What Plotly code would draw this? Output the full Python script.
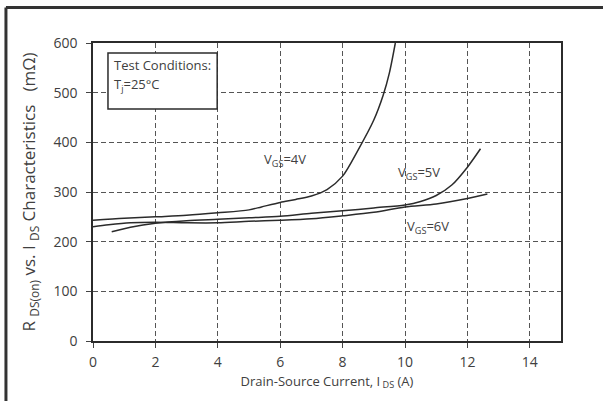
import plotly.graph_objects as go

# VGS = 4 V
ids_4v = [0, 1, 2, 3, 4, 5, 5.4, 6, 6.5, 7, 7.5, 8, 8.5, 9, 9.3, 9.5, 9.69]
rds_4v = [243, 247, 250, 253, 258, 264, 270, 279, 285, 292, 305, 332, 385, 445, 495, 540, 600]

# VGS = 5 V
ids_5v = [0.6, 1.2, 2, 3, 4, 5, 6, 7, 8, 9, 10, 10.5, 11, 11.5, 12, 12.42]
rds_5v = [220, 229, 237, 242, 245, 248, 251, 257, 262, 268, 274, 281, 293, 314, 350, 387]

# VGS = 6 V
ids_6v = [0, 0.5, 1.2, 2, 3, 4, 5, 6, 7, 8, 9, 10, 11, 12, 12.64]
rds_6v = [230, 234, 238, 239, 238, 238, 241, 243, 246, 252, 259, 270, 276, 287, 296]

x_ticks = [0, 2, 4, 6, 8, 10, 12, 14]
y_ticks = [0, 100, 200, 300, 400, 500, 600]

curve_labels = ["V<sub>GS</sub>=4V", "V<sub>GS</sub>=5V", "V<sub>GS</sub>=6V"]
label_x = [5.43, 9.7, 10.0]
label_y = [364, 338, 229]

FONT = "Open Sans"
TXT = "#404040"
LINE = "#2b2b2b"

fig = go.Figure()
for xs, ys in [(ids_4v, rds_4v), (ids_5v, rds_5v), (ids_6v, rds_6v)]:
    fig.add_trace(go.Scatter(x=xs, y=ys, mode="lines",
                             line=dict(color=LINE, width=1.5, shape="spline", smoothing=0.8),
                             showlegend=False, hoverinfo="skip"))

for t, lx, ly in zip(curve_labels, label_x, label_y):
    fig.add_annotation(x=lx, y=ly, text=t, showarrow=False, xanchor="left", yanchor="middle",
                       font=dict(family=FONT, size=13, color=TXT), bgcolor="rgba(255,255,255,0)")

# Test conditions box
fig.add_shape(type="rect", xref="x", yref="y", x0=0.48, x1=3.98, y0=467, y1=580,
              line=dict(color=LINE, width=1.5), fillcolor="white", layer="above")
fig.add_annotation(xref="x", yref="y", x=0.62, y=556, text="Test Conditions:", showarrow=False,
                   xanchor="left", yanchor="middle", font=dict(family=FONT, size=13, color=TXT))
fig.add_annotation(xref="x", yref="y", x=0.62, y=515, text="T<sub>j</sub>=25°C", showarrow=False,
                   xanchor="left", yanchor="middle", font=dict(family=FONT, size=13, color=TXT))

# outer image frame (top and left)
fig.add_shape(type="line", xref="paper", yref="paper", x0=-0.186, x1=1.1, y0=1.119, y1=1.119,
              line=dict(color="#333333", width=3))
fig.add_shape(type="line", xref="paper", yref="paper", x0=-0.186, x1=-0.186, y0=-0.21, y1=1.119,
              line=dict(color="#333333", width=3))

grid = dict(showgrid=True, gridcolor="#555555", gridwidth=1.2, griddash="5px,3px")
fig.update_xaxes(range=[0, 15], tickvals=x_ticks, ticks="outside", ticklen=5, tickcolor="#444",
                 showline=True, linecolor=LINE, linewidth=1.5, mirror=True, zeroline=False,
                 tickfont=dict(family=FONT, size=14, color=TXT), ticklabelstandoff=2,
                 title=dict(text="Drain-Source Current, I<sub>\u00a0DS</sub> (A)", standoff=7,
                            font=dict(family=FONT, size=13, color=TXT)), **grid)
fig.update_yaxes(range=[0, 600], tickvals=y_ticks, ticks="outside", ticklen=5, tickcolor="#444",
                 showline=True, linecolor=LINE, linewidth=1.5, mirror=True, zeroline=False,
                 tickfont=dict(family=FONT, size=14, color=TXT), ticklabelstandoff=6,
                 title=dict(text="R\u00a0<sub>DS(on)</sub>\u00a0vs.\u00a0I\u00a0<sub>DS</sub>\u00a0Characteristics\u00a0\u00a0\u00a0(mΩ)",
                            standoff=13, font=dict(family=FONT, size=17, color=TXT)), **grid)

fig.update_layout(width=603, height=401, margin=dict(l=93, r=42, t=43, b=60, autoexpand=False),
                  paper_bgcolor="white", plot_bgcolor="white", showlegend=False)
fig.write_html("out.html", config={"displayModeBar": False},
               post_script="document.body.style.margin='0';document.body.style.overflow='hidden';")
